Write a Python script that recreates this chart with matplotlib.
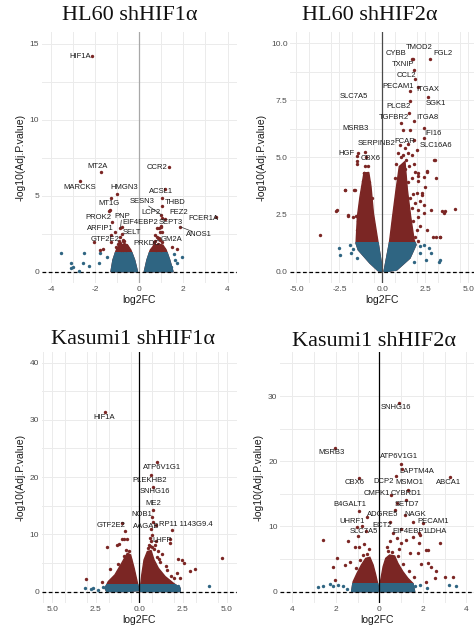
import matplotlib
matplotlib.use("Agg")
import matplotlib.pyplot as plt
from matplotlib.patches import Polygon, Rectangle
from matplotlib.ticker import FixedLocator
import numpy as np

RED = "#7b2624"
BLUE = "#2f6582"
THR = 1.3

# ---------------- Panel 1 : HL60 shHIF1a ----------------
p1_title = "HL60 shHIF1\u03b1"
p1_genes = ["HIF1A", "MT2A", "CCR2", "MARCKS", "HMGN3", "ACSL1", "MT1G", "SESN3", "THBD",
            "LCP2", "FEZ2", "FCER1A", "PROK2", "PNP", "EIF4EBP2", "SEPT3", "ANOS1",
            "ARFIP1", "SELT", "GTF2E2", "PRKDC", "GM2A"]
p1_gene_x = [-2.15, -1.74, 1.33, -2.68, -1.0, 1.03, -1.35, 1.0, 1.05,
             1.05, 1.15, 3.48, -1.25, -0.85, 0.8, 1.0, 1.86,
             -1.3, -0.75, -2.04, -0.6, 0.85]
p1_gene_y = [14.2, 6.55, 6.87, 6.0, 5.15, 4.85, 4.0, 3.75, 4.3,
             3.55, 3.45, 3.58, 3.3, 2.9, 2.9, 3.0, 2.96,
             2.4, 2.0, 1.93, 1.75, 2.2]
p1_label_x = [-2.68, -1.87, 0.80, -2.72, -0.68, 1.0, -1.39, 0.12, 1.63,
              0.53, 1.78, 2.92, -1.83, -0.79, 0.05, 1.41, 2.71,
              -1.77, -0.33, -1.54, 0.36, 1.44]
p1_label_y = [14.2, 6.9, 6.84, 5.55, 5.55, 5.3, 4.5, 4.63, 4.57,
              3.93, 3.88, 3.51, 3.58, 3.66, 3.22, 3.22, 2.48,
              2.85, 2.57, 2.13, 1.84, 2.13]
p1_segments = ["SESN3", "PNP", "ANOS1"]
p1_red_x = [-1.65, -1.77, -1.28, -1.09, -0.79, -1.29, -1.32, 0.92, 0.99, 1.48, 1.71, 0.88, 1.15,
            -0.95, -0.9, -0.85, -0.8, -0.75, -0.7, -0.65, -0.88, -0.78, -0.72, -0.6, -0.98, -1.05, -0.82, -0.68,
            0.6, 0.65, 0.7, 0.75, 0.8, 0.85, 0.9, 0.95, 1.0, 1.05, 0.72, 0.88, 1.1, 0.78, 0.98,
            -0.92, -0.76, -0.62, 0.66, 0.82, 0.94, 1.02]
p1_red_y = [1.47, 1.43, 1.97, 2.63, 2.96, 4.87, 4.06, 2.63, 2.96, 1.6, 1.53, 2.2, 5.42,
            1.5, 1.7, 1.9, 1.6, 2.1, 1.8, 1.55, 2.3, 2.5, 1.45, 1.7, 1.85, 1.6, 1.4, 2.0,
            1.5, 1.75, 2.0, 1.6, 2.3, 1.85, 1.5, 2.1, 1.7, 2.6, 2.45, 2.9, 1.5, 1.4, 1.45,
            2.05, 1.75, 1.4, 1.95, 1.65, 1.75, 1.95]
p1_blue_x = [-3.54, -3.09, -2.72, -2.53, -2.50, -2.26, -1.77, -1.84, -1.47, -2.98, -3.1,
             1.94, 1.71, 1.34, 1.56, 1.62, 1.45]
p1_blue_y = [1.25, 0.27, 0.03, 0.55, 1.21, 0.37, 1.25, 0.55, 1.0, 0.29, 0.6,
             0.99, 0.55, 0.45, 1.2, 0.8, 0.3]
p1_cloud_left_x = [-1.28, -1.19, -1.04, -0.86, -0.53, -0.38, -0.21, -0.08]
p1_cloud_left_y = [0.0, 0.77, 1.43, 1.76, 1.76, 1.43, 0.77, 0.0]
p1_cloud_right_x = [0.23, 0.35, 0.50, 0.68, 1.07, 1.22, 1.38, 1.53]
p1_cloud_right_y = [0.0, 0.77, 1.43, 1.76, 1.76, 1.43, 0.77, 0.0]
p1_xticks = [-4, -2, 0, 2, 4]
p1_xticklabels = ["-4", "-2", "0", "2", "4"]
p1_yticks = [0, 5, 10, 15]
p1_yticklabels = ["0", "5", "10", "15"]

# ---------------- Panel 2 : HL60 shHIF2a ----------------
p2_title = "HL60 shHIF2\u03b1"
p2_genes = ["CYBB", "TMOD2", "FGL2", "TXNIP", "CCL2", "PECAM1", "ITGAX", "SLC7A5", "SGK1",
            "PLCB2", "TGFBR2", "ITGA8", "MSRB3", "IFI16", "SERPINB2", "FCAR", "SLC16A6",
            "HGF", "CBX6"]
p2_gene_x = [1.73, 1.8, 2.80, 1.87, 1.92, 1.61, 2.08, -1.07, 2.64,
             1.63, 1.54, 1.86, -1.0, 2.41, -0.95, 1.87, 2.45,
             -1.47, -1.03]
p2_gene_y = [9.30, 9.32, 9.30, 8.83, 8.42, 7.91, 8.07, 4.31, 7.62,
             7.47, 6.93, 6.57, 4.6, 6.28, 5.0, 5.77, 5.83,
             5.08, 5.25]
p2_label_x = [0.82, 2.12, 3.54, 1.19, 1.38, 0.93, 2.64, -1.67, 3.13,
              0.97, 0.70, 2.64, -1.55, 2.95, -0.35, 1.28, 3.15,
              -2.11, -0.66]
p2_label_y = [9.56, 9.81, 9.53, 9.08, 8.57, 8.09, 7.98, 7.66, 7.34,
              7.23, 6.76, 6.76, 6.28, 6.03, 5.62, 5.69, 5.50,
              5.15, 4.96]
p2_segments = []
p2_red_x = [-3.61, -2.68, -2.15, -1.67, -2.0, -1.51, -1.08, -1.12, -1.47, -1.40, -1.49, -1.59,
            -2.17, -2.66, -1.98, -1.7, -1.5, -1.4,
            3.09, 3.15, 2.84, 3.61, 4.25, 3.15, 3.35, 2.6, 2.1, 2.31, 1.8, 2.1, 2.5, 2.4,
            1.83, 2.0, 1.5, 1.03, 1.32, 1.5, 1.23, 1.4, 1.7, 1.90, 2.1, 2.4, 2.6, 2.0, 2.29,
            2.1, 2.4, 2.58, 2.97, 3.35, 3.46, 3.65, 3.01, 0.82, 0.72, 1.2, 1.1, 1.6,
            1.9, 2.0, 2.2, 1.8, 2.1, 1.7, 1.9, 1.6, 2.2, 1.5, 1.7, 1.3, 1.1, 0.9, 0.95, 1.25,
            1.45, 1.75, 2.05, 1.15, 1.55, -0.6, -0.75, -1.2, -1.3, -0.85]
p2_red_y = [1.61, 2.67, 3.58, 3.55, 2.44, 2.44, 4.31, 3.95, 4.72, 5.18, 4.82, 3.58,
            3.58, 2.7, 2.48, 2.4, 1.8, 2.2,
            4.89, 4.1, 2.70, 2.56, 2.73, 1.53, 1.53, 4.38, 4.2, 3.36, 3.4, 3.95, 3.7, 2.9,
            4.7, 5.3, 5.2, 5.55, 5.4, 5.6, 5.1, 4.9, 5.1, 4.38, 4.3, 4.15, 4.4, 3.43, 3.43,
            2.7, 2.55, 1.83, 1.53, 1.53, 2.63, 2.63, 4.89, 4.7, 4.1, 6.2, 6.5, 6.2,
            1.5, 1.8, 2.0, 2.2, 2.4, 2.8, 3.0, 3.2, 3.1, 3.9, 4.1, 4.5, 5.0, 5.2, 4.0, 3.8,
            1.6, 1.45, 1.35, 4.3, 4.6, 3.2, 3.9, 1.9, 2.8, 4.6]
p2_blue_x = [2.41, 2.7, 2.18, 2.56, 3.35, 3.3, 2.85, 1.83, 2.2,
             -2.54, -2.44, -1.9, -1.8, -1.5, -1.7]
p2_blue_y = [1.17, 1.03, 0.8, 0.52, 0.52, 0.44, 0.8, 0.4, 1.1,
             1.02, 0.73, 1.17, 0.8, 0.58, 1.0]
p2_cloud_left_x = [0.02, -0.52, -0.66, -0.79, -1.07, -1.30, -1.45, -1.53, -1.40, -0.72, -0.23]
p2_cloud_left_y = [0.0, 2.56, 3.72, 4.34, 4.31, 3.28, 2.41, 1.24, 0.95, 0.37, 0.03]
p2_cloud_right_x = [0.10, 0.41, 0.60, 0.80, 0.99, 1.32, 1.46, 1.65, 1.85, 1.96, 1.61, 0.84, 0.26]
p2_cloud_right_y = [0.0, 1.24, 2.41, 3.58, 4.60, 4.82, 3.58, 2.41, 1.39, 1.17, 0.59, 0.07, 0.0]
p2_xticks = [-5, -2.5, 0, 2.5, 5]
p2_xticklabels = ["-5.0", "-2.5", "0.0", "2.5", "5.0"]
p2_yticks = [0, 2.5, 5, 7.5, 10]
p2_yticklabels = ["0.0", "2.5", "5.0", "7.5", "10.0"]

# ---------------- Panel 3 : Kasumi1 shHIF1a ----------------
p3_title = "Kasumi1 shHIF1\u03b1"
p3_genes = ["HIF1A", "ATP6V1G1", "PLEKHB2", "SNHG16", "ME2", "NOB1", "GTF2E2", "AAGAB",
            "RP11 1143G9.4", "LHFP"]
p3_gene_x = [-1.97, 1.03, 0.65, 0.77, 0.77, 0.70, -1.01, 0.68, 0.95, 1.86]
p3_gene_y = [31.4, 22.7, 20.4, 18.2, 14.3, 13.0, 11.9, 11.0, 11.6, 10.7]
p3_label_x = [-2.03, 1.29, 0.61, 0.90, 0.77, 0.14, -1.64, 0.42, 2.69, 1.29]
p3_label_y = [30.4, 21.7, 19.4, 17.4, 15.3, 13.4, 11.5, 11.4, 11.8, 9.0]
p3_segments = []
p3_red_x = [-1.87, -1.01, -0.69, -1.15, -0.82, -1.68, -2.16, -3.06, -0.88, -1.3,
            0.61, 0.67, 0.90, 0.61, 0.84, 1.76, 1.76, 2.24, 2.43, 2.57, 3.2, 2.93, 4.73,
            2.34, 2.15, 1.06, 1.15, 0.75, 0.8, 0.95, 1.3, 1.5,
            -0.75, -0.6, -0.9, -1.2, -0.55, 0.5, 0.55, 0.7, 1.0, 1.2, 1.6, 1.8, 2.0]
p3_red_y = [7.7, 9.15, 9.15, 8.3, 10.65, 3.9, 1.75, 2.2, 9.15, 8.15,
            9.3, 8.8, 8.15, 8.0, 7.5, 9.15, 8.5, 5.65, 5.5, 5.07, 3.9, 3.6, 5.83,
            2.3, 3.2, 7.0, 5.6, 9.9, 12.2, 8.9, 6.5, 4.5,
            7.3, 7.0, 6.2, 4.8, 5.6, 7.6, 8.2, 7.8, 6.0, 5.2, 3.8, 2.8, 2.4]
p3_blue_x = [-3.12, -2.64, -2.35, -2.07, 2.15, 3.97, 2.24, 1.86, -2.8, 2.0]
p3_blue_y = [0.6, 0.6, 0.3, 0.8, 0.6, 1.0, 1.0, 0.6, 0.5, 0.4]
p3_cloud_left_x = [-1.97, -1.78, -1.40, -1.01, -0.69, -0.50, -0.30, -0.15, -0.02, -0.72, -1.87]
p3_cloud_left_y = [0.59, 1.75, 2.92, 4.96, 6.7, 6.4, 4.08, 2.04, 0.17, 0.0, 0.0]
p3_cloud_right_x = [0.04, 0.14, 0.27, 0.46, 0.67, 0.84, 1.09, 1.48, 1.95, 2.34, 2.34, 0.04]
p3_cloud_right_y = [0.12, 2.92, 5.54, 6.99, 7.16, 5.54, 4.08, 2.62, 1.46, 0.59, 0.0, 0.0]
p3_xticks = [-5, -2.5, 0, 2.5, 5]
p3_xticklabels = ["5.0", "2.5", "0.0", "2.5", "5.0"]
p3_yticks = [0, 10, 20, 30, 40]
p3_yticklabels = ["0", "10", "20", "30", "40"]

# ---------------- Panel 4 : Kasumi1 shHIF2a ----------------
p4_title = "Kasumi1 shHIF2\u03b1"
p4_genes = ["SNHG16", "MSRB3", "ATP6V1G1", "LAPTM4A", "ABCA1", "CBX6", "DCP2", "MSMO1",
            "CMPK1", "CYBRD1", "SETD7", "B4GALT1", "ADGRE5", "NAGK", "UHRF1", "PECAM1",
            "ECT2", "SLC7A5", "EIF4EBP1", "LDHA"]
p4_gene_x = [0.92, -2.04, 0.98, 1.05, 3.24, -0.93, 0.76, 1.33,
             0.55, 1.2, 0.79, -0.96, 0.72, 1.54, -0.58, 2.02,
             0.49, -0.81, 1.0, 1.8]
p4_gene_y = [29.0, 22.1, 19.6, 18.8, 17.6, 17.5, 17.8, 15.6,
             14.8, 14.0, 13.6, 12.3, 12.5, 10.7, 11.5, 10.6,
             10.7, 10.0, 9.6, 9.0]
p4_label_x = [0.75, -2.22, 0.90, 1.71, 3.16, -1.16, 0.18, 1.40,
              -0.12, 1.22, 1.25, -1.35, 0.14, 1.66, -1.27, 2.48,
              0.12, -0.73, 1.42, 2.62]
p4_label_y = [28.2, 21.3, 20.7, 18.5, 16.8, 16.7, 16.9, 16.7,
              15.1, 15.1, 13.4, 13.3, 11.8, 11.8, 10.8, 10.8,
              10.1, 9.2, 9.2, 9.2]
p4_segments = []
p4_red_x = [-2.59, -1.44, -0.98, -1.03, -0.63, -0.94, -1.13, -1.97, -2.13, -2.05, -1.59, -1.36,
            0.62, 0.81, 1.01, 1.24, 1.54, 1.85, 2.16, 1.77, 2.23, 2.39, 1.93, 3.0, 3.38, 2.6,
            2.55, 2.16, 2.25, 2.78, 1.8, 0.5, 0.35, 1.16, 0.9, 1.4, -0.5, -0.7,
            -0.55, -0.75, -0.9, -1.1, 0.4, 0.6, 0.85, 1.1, 1.35, 1.6]
p4_red_y = [7.93, 7.82, 8.54, 9.88, 9.36, 6.9, 6.9, 5.12, 3.83, 1.79, 4.1, 4.6,
            8.96, 8.3, 7.42, 7.9, 8.35, 8.7, 6.4, 5.9, 4.35, 3.8, 4.2, 2.3, 2.3, 3.1,
            2.05, 1.53, 6.4, 7.4, 7.5, 7.8, 6.8, 11.8, 6.6, 6.0, 6.5, 7.3,
            5.8, 5.6, 4.8, 3.6, 6.3, 6.1, 5.4, 4.2, 3.1, 2.2]
p4_blue_x = [-2.82, -2.59, -2.28, -2.13, -1.9, -1.67, 3.22, 3.53, 1.85, 1.62, -1.5, 2.2]
p4_blue_y = [0.67, 0.9, 1.2, 0.9, 1.05, 0.8, 1.03, 0.8, 1.03, 0.8, 0.4, 0.5]
p4_cloud_left_x = [-1.28, -1.21, -1.03, -0.83, -0.63, -0.44, -0.29, -0.17, -0.05, -0.02]
p4_cloud_left_y = [0.0, 1.53, 2.82, 4.1, 5.12, 5.28, 4.1, 2.56, 0.77, 0.0]
p4_cloud_right_x = [0.03, 0.06, 0.17, 0.29, 0.47, 0.70, 0.85, 1.08, 1.31, 1.54, 1.62]
p4_cloud_right_y = [0.0, 1.79, 3.83, 5.12, 5.63, 5.48, 4.35, 3.07, 2.05, 1.28, 0.0]
p4_xticks = [-4, -2, 0, 2, 4]
p4_xticklabels = ["4", "2", "0", "2", "4"]
p4_yticks = [0, 10, 20, 30]
p4_yticklabels = ["0", "10", "20", "30"]

panels = [
    dict(title=p1_title, genes=p1_genes, gx=p1_gene_x, gy=p1_gene_y, lx=p1_label_x, ly=p1_label_y,
         segs=p1_segments, rx=p1_red_x, ry=p1_red_y, bx=p1_blue_x, by=p1_blue_y,
         clouds=[(p1_cloud_left_x, p1_cloud_left_y), (p1_cloud_right_x, p1_cloud_right_y)],
         xt=p1_xticks, xtl=p1_xticklabels, yt=p1_yticks, ytl=p1_yticklabels,
         xlim=(-4.42, 4.43), ylim=(-0.74, 15.8), xminor=1, yminor=2.5,
         rect=[41.7, 31.7, 237, 283], vline="#a8a8a8", title_xy=(130, 15)),
    dict(title=p2_title, genes=p2_genes, gx=p2_gene_x, gy=p2_gene_y, lx=p2_label_x, ly=p2_label_y,
         segs=p2_segments, rx=p2_red_x, ry=p2_red_y, bx=p2_blue_x, by=p2_blue_y,
         clouds=[(p2_cloud_left_x, p2_cloud_left_y), (p2_cloud_right_x, p2_cloud_right_y)],
         xt=p2_xticks, xtl=p2_xticklabels, yt=p2_yticks, ytl=p2_yticklabels,
         xlim=(-5.36, 5.34), ylim=(-0.5, 10.5), xminor=1.25, yminor=1.25,
         rect=[290.3, 31.7, 474, 283], vline="#4a4a4a", title_xy=(370, 15)),
    dict(title=p3_title, genes=p3_genes, gx=p3_gene_x, gy=p3_gene_y, lx=p3_label_x, ly=p3_label_y,
         segs=p3_segments, rx=p3_red_x, ry=p3_red_y, bx=p3_blue_x, by=p3_blue_y,
         clouds=[(p3_cloud_left_x, p3_cloud_left_y), (p3_cloud_right_x, p3_cloud_right_y)],
         xt=p3_xticks, xtl=p3_xticklabels, yt=p3_yticks, ytl=p3_yticklabels,
         xlim=(-5.6, 5.6), ylim=(-2.0, 41.9), xminor=1.25, yminor=5,
         rect=[41.7, 351.7, 237, 603], vline="#000000", title_xy=(133, 339)),
    dict(title=p4_title, genes=p4_genes, gx=p4_gene_x, gy=p4_gene_y, lx=p4_label_x, ly=p4_label_y,
         segs=p4_segments, rx=p4_red_x, ry=p4_red_y, bx=p4_blue_x, by=p4_blue_y,
         clouds=[(p4_cloud_left_x, p4_cloud_left_y), (p4_cloud_right_x, p4_cloud_right_y)],
         xt=p4_xticks, xtl=p4_xticklabels, yt=p4_yticks, ytl=p4_yticklabels,
         xlim=(-4.56, 4.35), ylim=(-1.73, 36.8), xminor=1, yminor=5,
         rect=[280.3, 351.7, 474, 603], vline="#000000", title_xy=(374, 341)),
]

W, H = 475, 632
fig = plt.figure(figsize=(W / 100, H / 100), dpi=100)
fig.patch.set_facecolor("white")
SANS = "Liberation Sans"

for p in panels:
    x0, y0, x1, y1 = p["rect"]
    ax = fig.add_axes([x0 / W, 1 - y1 / H, (x1 - x0) / W, (y1 - y0) / H])
    ax.set_facecolor("white")
    ax.set_xlim(*p["xlim"])
    ax.set_ylim(*p["ylim"])
    for s in ax.spines.values():
        s.set_visible(False)
    ax.set_xticks(p["xt"])
    ax.set_xticklabels(p["xtl"], fontsize=6, color="#4d4d4d", family=SANS)
    ax.set_yticks(p["yt"])
    ax.set_yticklabels(p["ytl"], fontsize=6, color="#4d4d4d", family=SANS)
    xm = np.arange(-8, 8.01, p["xminor"])
    ym = np.arange(0, 50, p["yminor"])
    ax.xaxis.set_minor_locator(FixedLocator(xm))
    ax.yaxis.set_minor_locator(FixedLocator(ym))
    ax.tick_params(which="both", length=0, pad=2)
    ax.grid(True, which="both", color="#ebebeb", lw=0.7)
    ax.set_axisbelow(True)
    ax.set_xlabel("log2FC", fontsize=7.5, family=SANS, color="#1a1a1a", labelpad=1.5)
    ax.set_ylabel("-log10(Adj.P.value)", fontsize=7.5, family=SANS, color="#1a1a1a", labelpad=3)

    # dense clouds
    for cx, cy in p["clouds"]:
        verts = list(zip(cx, cy))
        red = Polygon(verts, closed=True, facecolor=RED, edgecolor=RED, lw=1.0, zorder=2)
        ax.add_patch(red)
        blue = Polygon(verts, closed=True, facecolor=BLUE, edgecolor=BLUE, lw=1.0, zorder=2.1)
        ax.add_patch(blue)
        clip = Rectangle((-10, -10), 20, 10 + THR, transform=ax.transData)
        blue.set_clip_path(clip)

    ax.scatter(p["bx"], p["by"], s=6, color=BLUE, lw=0, zorder=3)
    ax.scatter(p["rx"], p["ry"], s=6, color=RED, lw=0, zorder=3)
    ax.scatter(p["gx"], p["gy"], s=6, color=RED, lw=0, zorder=4)

    ax.axvline(0, color=p["vline"], lw=0.9, zorder=2.5)
    ax.axhline(0, color="black", lw=0.9, ls=(0, (3, 2)), zorder=2.6)

    for g, gx, gy, lx, ly in zip(p["genes"], p["gx"], p["gy"], p["lx"], p["ly"]):
        ax.text(lx, ly, g, fontsize=5.5, family=SANS, color="#1a1a1a",
                ha="center", va="center", zorder=5)
        if g in p["segs"]:
            ex = lx + (gx - lx) * 0.35
            ey = ly + (gy - ly) * 0.35
            ax.plot([gx, ex], [gy, ey], color="#333333", lw=0.5, zorder=4)

    tx, ty = p["title_xy"]
    fig.text(tx / W, 1 - ty / H, p["title"], family="Liberation Serif", fontsize=16,
             ha="center", va="center", color="#111111")

fig.savefig("out.png", dpi=100, facecolor="white")
